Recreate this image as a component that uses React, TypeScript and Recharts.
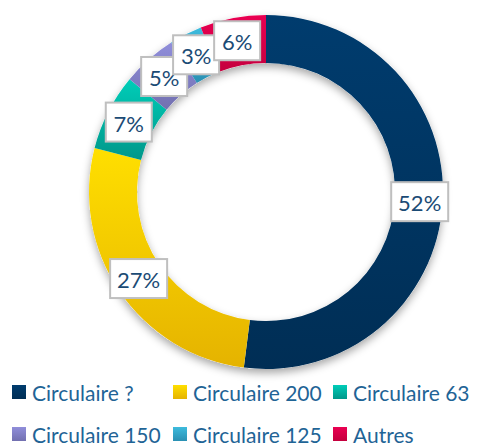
import React from "react";
import { PieChart, Pie, Cell, Legend } from "recharts";

// parts by type of circulaire
const names = [
  "Circulaire ?",
  "Circulaire 200",
  "Circulaire 63",
  "Circulaire 150",
  "Circulaire 125",
  "Autres",
];
const shares = [52, 27, 7, 5, 3, 6];
const topColors = ["#003C6E", "#FFDF00", "#00CDB8", "#908EDA", "#3DBBDD", "#EA0052"];
const bottomColors = ["#002E55", "#E5B300", "#00978A", "#7270B0", "#2A90B3", "#C4003E"];

const data = names.map((name, i) => ({ name, value: shares[i] }));
const ring = [{ name: "ring", value: 100 }];

const RAD = Math.PI / 180;
const FONT = "Lato, 'Liberation Sans', sans-serif";

const renderLabel = (props: any) => {
  const { cx, cy, midAngle, innerRadius, outerRadius, value, index } = props;
  const r = (innerRadius + outerRadius) / 2 + 1;
  const x = cx + r * Math.cos(-midAngle * RAD);
  const y = cy + r * Math.sin(-midAngle * RAD);
  const text = `${value}%`;
  const w = text.length > 2 ? 57 : 46;
  return (
    <g key={`lbl-${index}`}>
      <rect
        x={x - w / 2}
        y={y - 19.5}
        width={w}
        height={39}
        fill="#ffffff"
        stroke="#BFBFBF"
        strokeWidth={2}
      />
      <text
        x={x}
        y={y + 1}
        textAnchor="middle"
        dominantBaseline="central"
        fontSize={22}
        fontFamily={FONT}
        fill="#1B4B75"
      >
        {text}
      </text>
    </g>
  );
};

// legend in two rows of three, same order as the slices
const renderLegend = () => (
  <div
    style={{
      display: "grid",
      gridTemplateColumns: "161px 160px 156px",
      rowGap: 20,
      fontFamily: FONT,
      fontSize: 21,
      lineHeight: 1,
      color: "#1F6496",
    }}
  >
    {names.map((name, i) => (
      <div
        key={`leg-${i}`}
        style={{ display: "flex", alignItems: "center", height: 22, paddingLeft: 12, whiteSpace: "nowrap" }}
      >
        <svg width={14} height={14} style={{ marginRight: 6, flex: "none" }}>
          <rect width={14} height={14} fill={`url(#grad-${i})`} />
        </svg>
        <span>{name}</span>
      </div>
    ))}
  </div>
);

export default function App() {
  return (
    <div style={{ position: "absolute", left: 0, top: 0, width: 477, height: 446, background: "#fff" }}>
      <PieChart width={477} height={446} margin={{ top: 0, right: 0, bottom: 0, left: 0 }}>
        <defs>
          {names.map((_, i) => (
            <linearGradient key={i} id={`grad-${i}`} x1="0" y1="0" x2="0" y2="1">
              <stop offset="0%" stopColor={topColors[i]} />
              <stop offset="100%" stopColor={bottomColors[i]} />
            </linearGradient>
          ))}
          <filter id="ring-shadow" x="-20%" y="-20%" width="140%" height="140%">
            <feDropShadow dx="0" dy="4" stdDeviation="4" floodColor="#000" floodOpacity="0.35" />
          </filter>
        </defs>
        <Pie
          data={ring}
          dataKey="value"
          cx={266}
          cy={192}
          innerRadius={129}
          outerRadius={177}
          startAngle={90}
          endAngle={-270}
          fill="#ffffff"
          stroke="none"
          legendType="none"
          filter="url(#ring-shadow)"
          isAnimationActive={false}
        />
        <Pie
          data={data}
          dataKey="value"
          nameKey="name"
          cx={266}
          cy={192}
          innerRadius={129}
          outerRadius={177}
          startAngle={90}
          endAngle={-270}
          stroke="none"
          labelLine={false}
          label={renderLabel}
          legendType="square"
          isAnimationActive={false}
        >
          {data.map((_, i) => (
            <Cell key={`cell-${i}`} fill={`url(#grad-${i})`} />
          ))}
        </Pie>
        <Legend
          content={renderLegend}
          wrapperStyle={{ position: "absolute", left: 0, top: 381, width: 477 }}
        />
      </PieChart>
    </div>
  );
}
